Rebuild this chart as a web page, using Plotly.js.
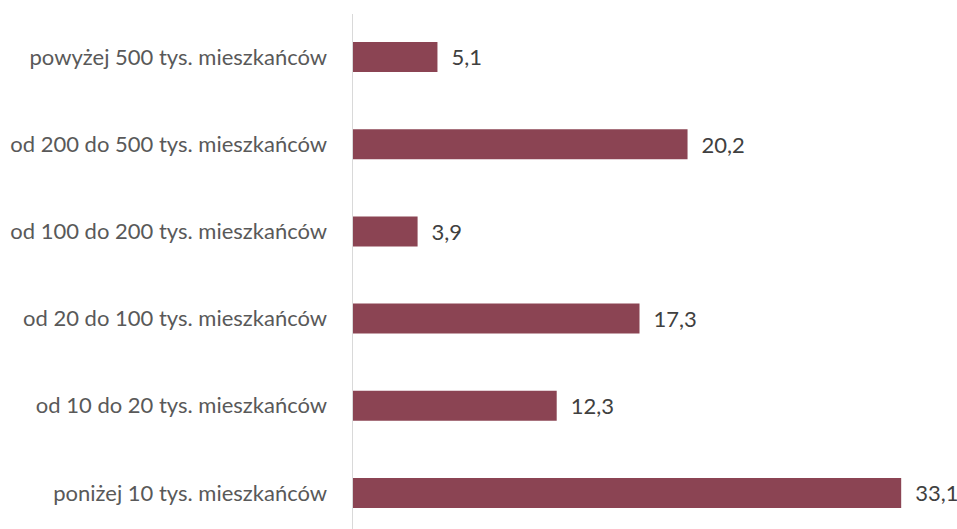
<!DOCTYPE html>
<html><head><meta charset="utf-8">
<script src="https://cdn.plot.ly/plotly-3.0.1.min.js"></script>
<style>html,body{margin:0;padding:0;background:#fff}#c{width:957px;height:529px}</style>
</head><body><div id="c"></div>
<script>
const categories = ["poniżej 10 tys. mieszkańców","od 10 do 20 tys. mieszkańców","od 20 do 100 tys. mieszkańców","od 100 do 200 tys. mieszkańców","od 200 do 500 tys. mieszkańców","powyżej 500 tys. mieszkańców"];
const values = [33.1, 12.3, 17.3, 3.9, 20.2, 5.1];
const labels = values.map(v => '\u2002' + v.toFixed(1).replace('.', ','));

Plotly.newPlot('c', [{
  type: 'bar', orientation: 'h', y: categories, x: values,
  text: labels, textposition: 'outside', cliponaxis: false,
  textfont: {family: 'Lato, sans-serif', size: 22, color: '#404040'},
  marker: {color: '#8B4453'}, width: 0.344, hoverinfo: 'none'
}], {
  width: 957, height: 529,
  margin: {l: 353, r: 0, t: 14, b: 0},
  paper_bgcolor: '#fff', plot_bgcolor: '#fff',
  showlegend: false,
  font: {family: 'Lato, sans-serif', size: 22, color: '#595959'},
  xaxis: {range: [0, 36.47], showgrid: false, zeroline: false, showticklabels: false, showline: false, fixedrange: true},
  yaxis: {type: 'category', range: [-0.413, 5.493], showgrid: false, zeroline: false,
          showline: true, linecolor: '#d9d9d9', linewidth: 1.5, ticks: 'outside', ticklen: 20, tickcolor: 'rgba(0,0,0,0)',
          tickfont: {family: 'Lato, sans-serif', size: 22, color: '#595959'}}
}, {displayModeBar: false, staticPlot: true});
</script></body></html>
